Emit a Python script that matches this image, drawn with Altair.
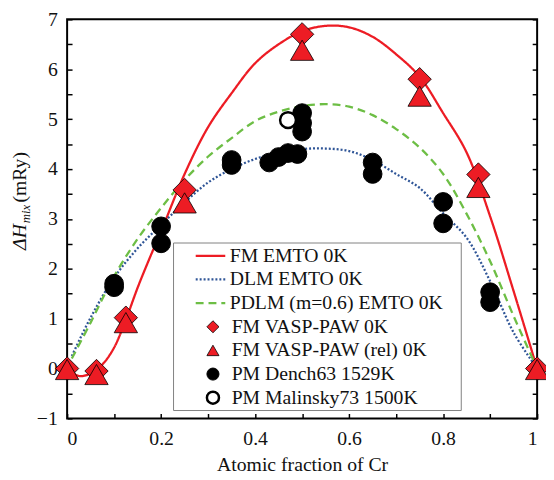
import altair as alt
import pandas as pd

# ---------------- data ----------------
line_names = ["FM EMTO 0K", "DLM EMTO 0K", "PDLM (m=0.6) EMTO 0K"]
pt_names = ["FM VASP-PAW 0K", "FM VASP-PAW (rel) 0K", "PM Dench63 1529K", "PM Malinsky73 1500K"]

red_x = [0, 0.025, 0.05, 0.075, 0.1, 0.125, 0.15, 0.175, 0.2, 0.25, 0.3, 0.35, 0.4, 0.45,
         0.5, 0.55, 0.6, 0.65, 0.7, 0.75, 0.8, 0.85, 0.9, 0.95, 1.0]
red_y = [0, -0.15, -0.1, 0.08, 0.42, 0.98, 1.62, 2.2, 2.75, 3.9, 4.84, 5.52, 6.12, 6.5,
         6.76, 6.87, 6.84, 6.65, 6.3, 5.85, 5.12, 4.33, 3.05, 1.55, 0]

blue_x = [0.01, 0.05, 0.1, 0.15, 0.2, 0.25, 0.3, 0.35, 0.4, 0.45, 0.5, 0.55, 0.6, 0.65,
          0.7, 0.75, 0.8, 0.85, 0.9, 0.95, 1.0]
blue_y = [0.25, 1.02, 1.82, 2.41, 2.88, 3.33, 3.73, 4.0, 4.2, 4.33, 4.4, 4.41, 4.36, 4.18,
          3.9, 3.62, 3.11, 2.62, 1.75, 0.72, 0]

green_x = [0.01, 0.05, 0.1, 0.15, 0.2, 0.25, 0.3, 0.35, 0.4, 0.45, 0.5, 0.55, 0.6, 0.65,
           0.7, 0.75, 0.8, 0.85, 0.9, 0.95, 1.0]
green_y = [0.2, 0.92, 1.85, 2.6, 3.22, 3.78, 4.25, 4.62, 4.96, 5.15, 5.26, 5.3, 5.25, 5.08,
           4.8, 4.43, 3.9, 3.1, 2.15, 1.05, 0]

fm_x = [0, 0.0625, 0.125, 0.25, 0.5, 0.75, 0.875, 1.0]
fm_y = [0.0, -0.05, 1.02, 3.58, 6.70, 5.80, 3.89, 0.0]
rel_x = [0, 0.0625, 0.125, 0.25, 0.5, 0.75, 0.875, 1.0]
rel_y = [-0.02, -0.12, 0.92, 3.32, 6.38, 5.46, 3.63, -0.02]
dench_x = [0.1, 0.1, 0.2, 0.2, 0.35, 0.35, 0.43, 0.45, 0.47, 0.49, 0.5, 0.5, 0.5,
           0.65, 0.65, 0.8, 0.8, 0.9, 0.9]
dench_y = [1.70, 1.63, 2.85, 2.51, 4.18, 4.08, 4.13, 4.24, 4.32, 4.30, 5.12, 4.92, 4.75,
           4.13, 3.90, 3.34, 2.91, 1.53, 1.33]
mal_x = [0.47]
mal_y = [4.98]

x_ticks = [0, 0.1, 0.2, 0.3, 0.4, 0.5, 0.6, 0.7, 0.8, 0.9, 1.0]
y_ticks = [-1, -0.5, 0, 0.5, 1, 1.5, 2, 2.5, 3, 3.5, 4, 4.5, 5, 5.5, 6, 6.5, 7]

# ---------------- tables ----------------
lines_df = pd.concat([
    pd.DataFrame({"x": red_x, "y": red_y, "series": line_names[0]}),
    pd.DataFrame({"x": blue_x, "y": blue_y, "series": line_names[1]}),
    pd.DataFrame({"x": green_x, "y": green_y, "series": line_names[2]}),
], ignore_index=True)

pts_df = pd.concat([
    pd.DataFrame({"x": fm_x, "y": fm_y, "series": pt_names[0], "sz": 560}),
    pd.DataFrame({"x": rel_x, "y": rel_y, "series": pt_names[1], "sz": 560}),
    pd.DataFrame({"x": dench_x, "y": dench_y, "series": pt_names[2], "sz": 361}),
    pd.DataFrame({"x": mal_x, "y": mal_y, "series": pt_names[3], "sz": 260}),
], ignore_index=True)
pts_df["ord"] = range(len(pts_df))

FONT = "Liberation Serif"
RED = "#ED1C24"
BLUE = "#2F5597"
GREEN = "#6DBE45"

xscale = alt.Scale(domain=[0, 1], nice=False)
yscale = alt.Scale(domain=[-1, 7], nice=False)

x_enc = alt.X("x:Q", scale=xscale, axis=alt.Axis(
    values=x_ticks, format=".1~f",
    labelExpr="round(datum.value*10)%2==0 ? datum.label : ''",
    orient="bottom", offset=-5, tickSize=5, domain=False, grid=False,
    tickColor="black", tickWidth=1.5, labelFont=FONT, labelFontSize=20,
    labelColor="#111", labelPadding=10, title="Atomic fraction of Cr",
    titleFont=FONT, titleFontSize=20, titleFontWeight="normal", titleColor="#111",
    titlePadding=7))

line_legend = alt.Legend(
    title=None, orient="none", legendX=129, legendY=229, symbolType="stroke",
    symbolSize=900, symbolStrokeWidth=2.3, labelFont=FONT, labelFontSize=20,
    labelColor="#111", clipHeight=22, rowPadding=2, padding=0, labelOffset=3,
    labelLimit=400)

pt_legend = alt.Legend(
    title=None, orient="none", legendX=138, legendY=301, symbolSize=150,
    labelFont=FONT, labelFontSize=20, labelColor="#111",
    clipHeight=22, rowPadding=2, padding=0, labelOffset=9, labelLimit=400)

lines = alt.Chart(lines_df).mark_line(interpolate="catmull-rom", strokeWidth=2.3).encode(
    x=x_enc,
    y=alt.Y("y:Q", scale=yscale, axis=alt.Axis(
        values=y_ticks, format="~g",
        labelExpr="datum.value % 1 == 0 ? datum.label : ''",
        orient="left", offset=-5, tickSize=5, domain=False, grid=False,
        tickColor="black", tickWidth=1.5, labelFont=FONT, labelFontSize=20,
        labelColor="#111", labelPadding=10, title=None)),
    color=alt.Color("series:N", scale=alt.Scale(domain=line_names, range=[RED, BLUE, GREEN]),
                    legend=line_legend),
    strokeDash=alt.StrokeDash("series:N", scale=alt.Scale(
        domain=line_names, range=[[1, 0], [2, 2], [8, 5]]), legend=line_legend),
    detail="series:N",
)

box = alt.Chart(pd.DataFrame({"a": [0]})).mark_rect(
    fill="white", stroke="#808080", strokeWidth=1).encode(
    x=alt.value(108), x2=alt.value(400), y=alt.value(227), y2=alt.value(397))

points = alt.Chart(pts_df).mark_point(filled=True, opacity=1).encode(
    x=x_enc,
    y=alt.Y("y:Q", scale=yscale, axis=alt.Axis(
        values=y_ticks, labels=False, orient="right", offset=-5, tickSize=5,
        domain=False, grid=False, tickColor="black", tickWidth=1.5, title=None)),
    shape=alt.Shape("series:N", scale=alt.Scale(
        domain=pt_names, range=["diamond", "triangle-up", "circle", "circle"]), legend=pt_legend),
    fill=alt.Fill("series:N", scale=alt.Scale(
        domain=pt_names, range=[RED, RED, "black", "white"]), legend=pt_legend),
    stroke=alt.Stroke("series:N", scale=alt.Scale(
        domain=pt_names, range=["black", "black", "black", "black"]), legend=pt_legend),
    strokeWidth=alt.StrokeWidth("series:O", scale=alt.Scale(
        type="ordinal", domain=pt_names, range=[0.8, 0.8, 1, 2.5]), legend=pt_legend),
    size=alt.Size("sz:Q", scale=None, legend=None),
    order="ord:Q",
)

t1 = alt.Chart(pd.DataFrame({"a": [0]})).mark_text(
    text="ΔH", font=FONT, fontSize=20, fontStyle="italic", angle=270, align="left",
    baseline="alphabetic", color="#111").encode(x=alt.value(-42), y=alt.value(234))
t2 = alt.Chart(pd.DataFrame({"a": [0]})).mark_text(
    text="mix", font=FONT, fontSize=13, fontStyle="italic", angle=270, align="left",
    baseline="alphabetic", color="#111").encode(x=alt.value(-38), y=alt.value(207))
t3 = alt.Chart(pd.DataFrame({"a": [0]})).mark_text(
    text="(mRy)", font=FONT, fontSize=20, angle=270, align="left",
    baseline="alphabetic", color="#111").encode(x=alt.value(-42), y=alt.value(186))

chart = alt.layer(lines, box, points, t1, t2, t3).resolve_axis(y="independent").properties(
    width=477, height=405,
    autosize=alt.AutoSizeParams(type="none"),
    padding={"left": 60, "top": 8, "right": 9, "bottom": 59},
).configure_view(stroke="black", strokeWidth=2).configure_axis(labelColor="#111")

chart.save("out.html", embed_options={"renderer": "svg", "actions": False})
